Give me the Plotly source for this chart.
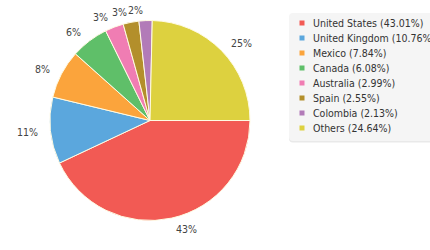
import math
import plotly.graph_objects as go

countries = ["United States", "United Kingdom", "Mexico", "Canada",
             "Australia", "Spain", "Colombia", "Others"]
shares = [43.01, 10.76, 7.84, 6.08, 2.99, 2.55, 2.13, 24.64]
colors = ["#f25a54", "#5ba7dd", "#fba43c", "#5fbf69",
          "#f07db3", "#b38f2b", "#b27bb8", "#ddd13f"]

W, H = 430, 250
FONT = "DejaVu Sans Condensed, Liberation Sans, sans-serif"

def px(x):
    return x / W

def py(y):
    return 1 - y / H

cx, cy, r = 150, 120.5, 100

fig = go.Figure(go.Pie(
    labels=countries,
    values=shares,
    sort=False,
    direction="clockwise",
    rotation=90,
    marker=dict(colors=colors, line=dict(color="#fffbe3", width=1)),
    textinfo="none",
    domain=dict(x=[px(cx - r), px(cx + r)], y=[py(cy + r), py(cy - r)]),
    showlegend=False,
    hoverinfo="label+percent",
))

shapes = []
annotations = []

# outside percentage labels, placed along each slice's mid-angle
total = sum(shares)
acc = 0.0
label_r = r + 11
for val in shares:
    mid = (acc + val / 2) / total * 2 * math.pi  # clockwise from east
    acc += val
    dx, dy = math.cos(mid), math.sin(mid)
    lx, ly = cx + label_r * dx, cy + label_r * dy
    annotations.append(dict(xref="paper", yref="paper", x=px(lx), y=py(ly),
                            xanchor="left" if dx >= 0 else "right",
                            yanchor="middle", showarrow=False,
                            text=f"{round(val / total * 100):d}%",
                            font=dict(family=FONT, size=10.5, color="#444444")))

# legend box (shadow + body)
bx0, by0, bx1, by1, rad = 289, 13, 445, 141, 4
def rounded(x0, y0, x1, y1, rr):
    return (f"M {px(x0+rr)} {py(y0)} L {px(x1-rr)} {py(y0)} "
            f"Q {px(x1)} {py(y0)} {px(x1)} {py(y0+rr)} L {px(x1)} {py(y1-rr)} "
            f"Q {px(x1)} {py(y1)} {px(x1-rr)} {py(y1)} L {px(x0+rr)} {py(y1)} "
            f"Q {px(x0)} {py(y1)} {px(x0)} {py(y1-rr)} L {px(x0)} {py(y0+rr)} "
            f"Q {px(x0)} {py(y0)} {px(x0+rr)} {py(y0)} Z")
shapes.append(dict(type="path", xref="paper", yref="paper",
                   path=rounded(bx0, by0 + 1.5, bx1, by1 + 1.5, rad),
                   fillcolor="#e9e9e9", line=dict(width=0), layer="below"))
shapes.append(dict(type="path", xref="paper", yref="paper",
                   path=rounded(bx0, by0, bx1, by1, rad),
                   fillcolor="#f5f5f5", line=dict(width=0), layer="below"))

for i, (name, val, col) in enumerate(zip(countries, shares, colors)):
    yc = 23 + 15 * i
    shapes.append(dict(type="rect", xref="paper", yref="paper",
                       x0=px(299.5), x1=px(304.5), y0=py(yc + 2.5), y1=py(yc - 2.5),
                       fillcolor=col, line=dict(width=0)))
    annotations.append(dict(xref="paper", yref="paper", x=px(311), y=py(yc),
                            xanchor="left", yanchor="middle", showarrow=False,
                            text=f"{name} ({val:.2f}%)",
                            font=dict(family=FONT, size=10.5, color="#333333")))

fig.update_layout(
    width=W, height=H,
    margin=dict(l=0, r=0, t=0, b=0),
    paper_bgcolor="white",
    plot_bgcolor="white",
    shapes=shapes,
    annotations=annotations,
    font=dict(family=FONT, size=10.5, color="#444444"),
)

fig.write_html("out.html")
